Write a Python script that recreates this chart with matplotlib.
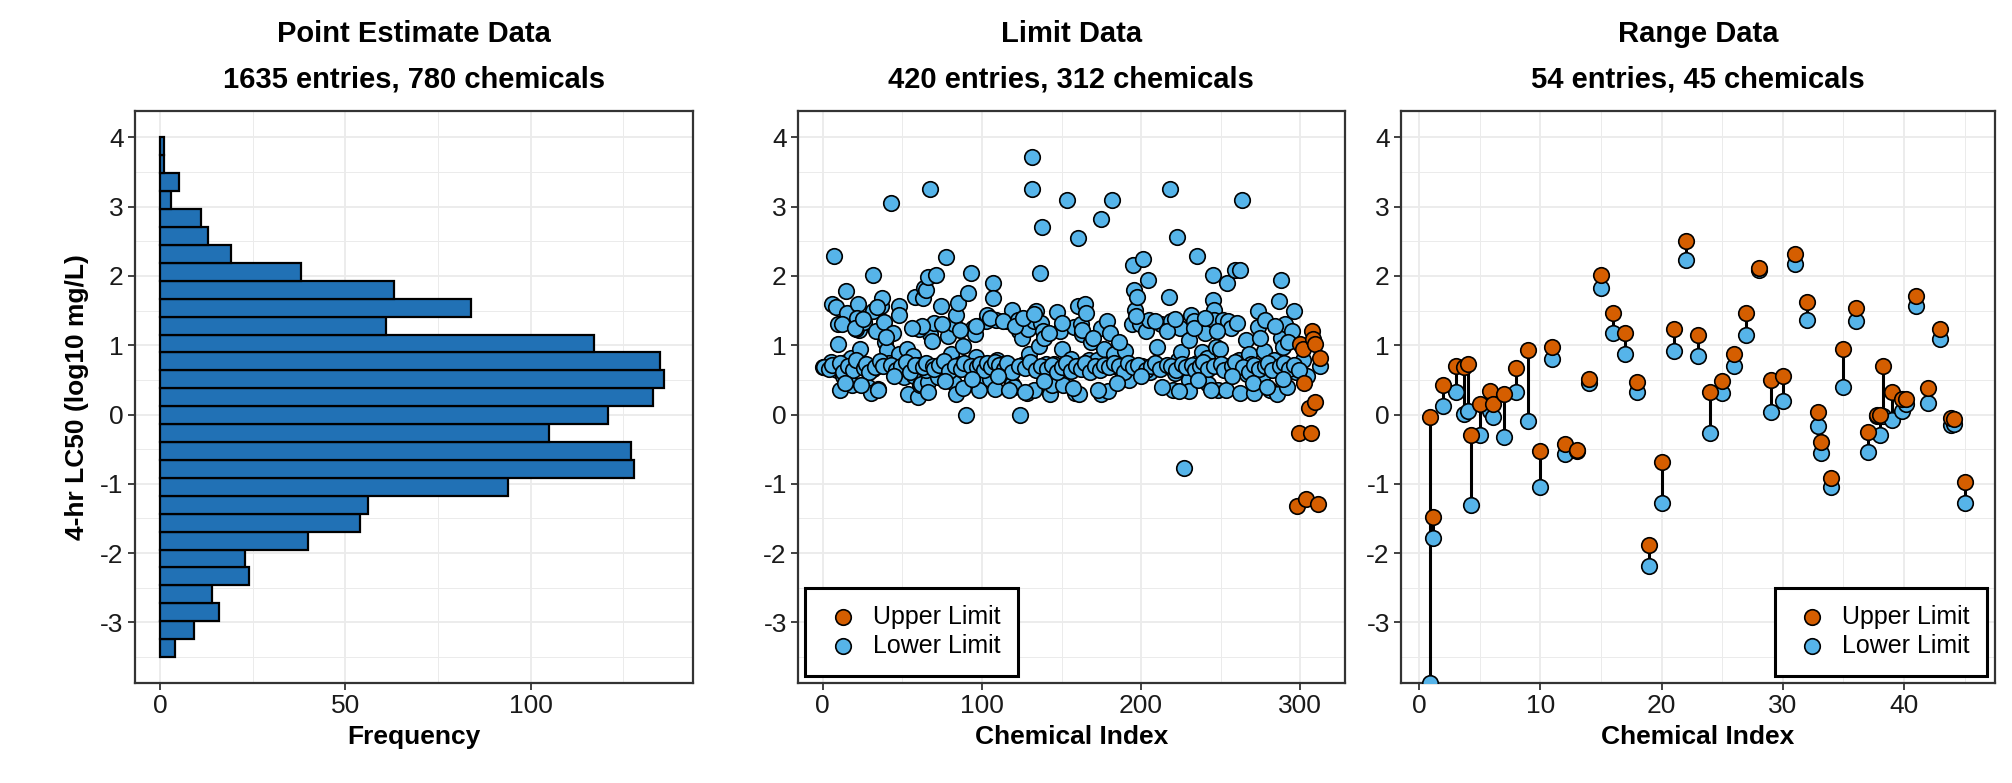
import numpy as np
import matplotlib
matplotlib.use("Agg")
from matplotlib import pyplot as plt
from matplotlib.ticker import MultipleLocator

plt.rcParams['font.family'] = ['Liberation Sans', 'DejaVu Sans']
plt.rcParams['axes.unicode_minus'] = False

ORANGE = '#D55E00'
BLUE = '#56B4E9'
BAR = '#2171B5'

# histogram of point estimates (counts from bottom bin at -3.5 up to 4.0)
hist_lo, hist_hi = -3.5, 4.0
hist_counts = [4, 9, 16, 14, 24, 23, 40, 54, 56, 94, 128, 127, 105, 121, 133,
               136, 135, 117, 61, 84, 63, 38, 19, 13, 11, 3, 5, 1, 1]

# limit data: lower limits (blue) and upper limits (orange)
lower_idx = [0, 2.6, 5.1, 7.2, 5.6, 8.2, 9.5, 9.5, 9, 10.8, 12.8, 14.6, 15.1, 14.6, 17.6, 18.5,
             17.2, 22.3, 21.8, 22.8, 23.1, 21, 24.4, 26.2, 28.2, 30, 34.7, 31.6, 31.3, 33.4,
             31.3, 33.9, 36.5, 37.2, 38.2, 39, 40.3, 42.9, 44.2, 41.6, 44.9, 47.9, 47.9, 50.6,
             47.9, 53.1, 51.3, 53.7, 57, 56.4, 58.2, 59.6, 60.3, 60.9, 61.6, 62.9, 63.4, 64.7,
             66, 67.3, 67.3, 68.5, 69.8, 60.3, 62.1, 66, 64.7, 71.1, 72.4, 74.2, 77.5, 75.7,
             78.8, 80.6, 80.9, 82.7, 84, 82.7, 84, 85.2, 86.5, 88.3, 89.9, 91.1, 91.7, 92.9,
             94.2, 95.5, 96.3, 98.1, 98.1, 102, 102.7, 103.3, 104, 105.3, 107.1, 107.1, 108.3,
             109.1, 109.6, 112.2, 113.5, 115.5, 117.3, 118.6, 118.6, 120.4, 121.2, 122.5, 123,
             124, 125.1, 126.3, 128.3, 128.9, 129.4, 131.4, 131.4, 132.7, 132.7, 134, 135.8,
             136.6, 137.4, 137.9, 138.4, 139.2, 140.4, 143, 144.3, 145, 146.9, 148.9, 150.2,
             151.2, 153.3, 155.4, 155.8, 157.8, 158.4, 160.2, 160.2, 161, 162.3, 163, 164.9,
             165.6, 166.1, 167.4, 168.7, 170, 172.5, 174.6, 175.1, 175.1, 176.9, 178.5, 179,
             180.2, 181.5, 182.8, 184.1, 187.9, 189.7, 191.3, 192.6, 194.3, 195.1, 195.6, 196.4,
             197.4, 199.5, 200.8, 201.5, 202.8, 204.6, 205.1, 205.9, 208.5, 210.2, 212.3, 214.8,
             217.4, 218.2, 218.7, 220, 222.6, 221.3, 223.1, 224.7, 225.2, 227.2, 229.8, 229.8,
             229.8, 231.6, 233.4, 235.4, 235.4, 238, 240, 241.1, 241.9, 243.6, 245.2, 245.2,
             245.7, 245.7, 247, 249.5, 248.3, 251.6, 253.1, 254.1, 254.9, 255.5, 256.7, 259.3,
             262.3, 263.2, 261.2, 262.3, 265.7, 266.7, 267.5, 269.3, 270.8, 273.4, 273.4, 276,
             277, 277.8, 281.1, 283.7, 285.5, 286.8, 287.6, 288.1, 288.9, 290.1, 291.4, 291.9,
             294.5, 295.8, 297.1, 301.7, 304.3, 312.5,
             1, 4, 6, 11, 13, 16, 19, 21, 26, 27, 29, 33, 36, 38, 43, 46, 49, 52, 55, 58, 63,
             65, 69, 70, 73, 76, 79, 83, 87, 89, 93, 97, 99, 101, 103, 106, 108, 111, 114, 116,
             119, 123, 127, 130, 134, 137, 141, 144, 147, 150, 153, 156, 159, 162, 165, 168,
             171, 174, 177, 180, 183, 186, 189, 192, 195, 198, 203, 206, 209, 212, 216, 219,
             222, 226, 228, 232, 234, 237, 239, 242, 246, 250, 252, 257, 259, 264, 268, 271,
             274, 278, 280, 282, 287, 290, 293, 296, 299,
             14, 24, 35, 45, 66, 77, 88, 94, 110, 117, 127, 139, 157, 173, 185, 200, 213, 224,
             236, 244, 257, 270, 279, 289,
             12, 20, 25, 34, 40, 56, 75, 86, 96, 105, 113, 121, 126, 133, 142, 150, 163, 170,
             186, 197, 209, 216, 221, 233, 240, 248, 260, 275, 284, 292]
lower_val = [0.69, 0.69, 0.76, 2.29, 1.6, 1.55, 1.31, 1.02, 0.64, 0.35, 0.55, 1.79, 1.46, 0.76,
             0.82, 0.42, 0.68, 1.6, 1.4, 1.22, 0.94, 1.23, 0.70, 1.33, 0.40, 0.31, 0.37, 2.01,
             1.49, 1.2, 0.66, 0.70, 1.56, 1.68, 1.33, 1.04, 0.93, 3.06, 1.17, 0.74, 0.66, 1.56,
             1.44, 0.80, 0.87, 0.94, 0.54, 0.30, 0.55, 0.85, 1.7, 0.25, 0.71, 0.42, 0.44, 1.68,
             1.82, 1.80, 1.98, 3.26, 1.16, 1.06, 1.32, 1.23, 1.28, 0.47, 0.64, 2.02, 0.54, 1.56,
             2.27, 0.70, 1.13, 0.87, 0.48, 0.45, 0.30, 1.30, 1.44, 1.61, 0.73, 0.99, 0.0, 1.75,
             0.70, 2.04, 1.25, 1.16, 0.83, 0.49, 0.35, 0.68, 1.35, 1.44, 0.70, 0.51, 1.90, 1.68,
             0.37, 1.37, 0.78, 0.59, 0.73, 1.35, 0.70, 1.51, 0.44, 0.40, 0.68, 1.37, 1.20, 0.0,
             1.11, 0.73, 0.31, 1.23, 0.87, 3.72, 3.26, 0.35, 1.35, 1.49, 0.99, 2.04, 1.32, 2.70,
             1.20, 1.10, 0.73, 0.30, 0.42, 0.73, 1.48, 1.21, 0.94, 0.42, 3.10, 0.68, 0.80, 1.26,
             0.31, 2.55, 1.56, 0.30, 1.30, 1.16, 1.60, 1.47, 0.66, 0.78, 1.04, 0.68, 0.78, 1.25,
             2.82, 0.30, 0.94, 1.35, 0.34, 1.18, 3.10, 0.87, 0.70, 0.63, 0.92, 0.70, 0.50, 1.30,
             2.16, 1.80, 1.51, 1.70, 1.31, 0.70, 2.24, 1.21, 1.94, 1.36, 0.61, 0.70, 0.98, 1.31,
             0.70, 1.70, 3.25, 1.35, 0.36, 2.56, 0.60, 0.78, 1.25, 0.90, -0.77, 1.07, 0.50, 0.34,
             1.44, 1.35, 2.29, 0.75, 0.90, 1.17, 0.82, 0.44, 0.70, 2.01, 1.66, 1.51, 1.37, 0.97,
             0.94, 0.35, 1.37, 0.36, 1.90, 1.35, 0.70, 1.25, 2.09, 2.09, 3.10, 0.78, 0.31, 1.07,
             0.58, 0.88, 0.73, 0.31, 1.50, 1.26, 0.54, 0.92, 1.37, 0.35, 0.79, 0.30, 1.64, 1.94,
             1.11, 0.97, 1.30, 0.40, 0.68, 1.21, 1.50, 0.62, 0.79, 0.56, 0.70,
             0.69, 0.66, 0.72, 0.74, 0.62, 0.70, 0.65, 0.78, 0.67, 0.73, 0.62, 0.68, 0.77, 0.70,
             0.72, 0.65, 0.70, 0.76, 0.62, 0.72, 0.68, 0.74, 0.70, 0.66, 0.72, 0.77, 0.63, 0.70,
             0.66, 0.74, 0.70, 0.68, 0.73, 0.64, 0.75, 0.69, 0.76, 0.71, 0.66, 0.74, 0.62, 0.70,
             0.67, 0.76, 0.64, 0.70, 0.66, 0.72, 0.62, 0.68, 0.74, 0.63, 0.70, 0.66, 0.75, 0.62,
             0.70, 0.64, 0.72, 0.68, 0.75, 0.70, 0.62, 0.74, 0.68, 0.72, 0.65, 0.70, 0.74, 0.66,
             0.72, 0.70, 0.64, 0.73, 0.68, 0.72, 0.64, 0.70, 0.76, 0.66, 0.70, 0.73, 0.64, 0.70,
             0.76, 0.68, 0.62, 0.72, 0.66, 0.70, 0.75, 0.64, 0.70, 0.74, 0.66, 0.72, 0.64,
             0.45, 0.42, 0.36, 0.55, 0.33, 0.48, 0.38, 0.52, 0.55, 0.36, 0.33, 0.48, 0.38, 0.35,
             0.45, 0.55, 0.40, 0.34, 0.50, 0.36, 0.56, 0.45, 0.40, 0.52,
             1.30, 1.25, 1.38, 1.55, 1.12, 1.25, 1.30, 1.22, 1.28, 1.40, 1.35, 1.28, 1.40, 1.45,
             1.18, 1.32, 1.22, 1.10, 1.05, 1.42, 1.35, 1.20, 1.38, 1.25, 1.40, 1.20, 1.32, 1.10,
             1.28, 1.05]
upper_idx = [300.1, 301.7, 307.3, 307.8, 309.1, 312.5, 302.2, 305.3, 309.4, 299.1, 306.8,
             297.8, 303.5, 311.2]
upper_val = [1.02, 0.94, 1.21, 1.09, 1.02, 0.82, 0.45, 0.09, 0.18, -0.26, -0.26,
             -1.32, -1.22, -1.29]

# range data: one entry per row (chemical index, upper, lower)
range_chem = [1, 1, 2, 3, 4, 4, 4, 5, 6, 6, 7, 8, 9, 10, 11, 12, 13, 14, 15, 16, 17, 18,
              19, 20, 21, 22, 23, 24, 25, 26, 27, 28, 29, 30, 31, 32, 33, 33, 34, 35, 36,
              37, 38, 38, 38, 39, 40, 40, 41, 42, 43, 44, 44, 45]
range_upper = [-0.04, -1.48, 0.43, 0.70, 0.69, 0.73, -0.30, 0.15, 0.34, 0.15, 0.29, 0.67,
               0.93, -0.53, 0.97, -0.43, -0.51, 0.52, 2.01, 1.47, 1.18, 0.47, -1.89, -0.68,
               1.23, 2.51, 1.15, 0.32, 0.49, 0.87, 1.47, 2.11, 0.50, 0.56, 2.32, 1.62, 0.04,
               -0.40, -0.92, 0.94, 1.54, -0.25, 0.0, 0.0, 0.70, 0.32, 0.22, 0.22, 1.71, 0.39,
               1.24, -0.05, -0.06, -0.97]
range_lower = [-3.87, -1.78, 0.13, 0.32, 0.01, 0.05, -1.30, -0.29, 0.05, -0.03, -0.32, 0.32,
               -0.09, -1.04, 0.80, -0.57, -0.52, 0.46, 1.83, 1.18, 0.88, 0.32, -2.19, -1.27,
               0.92, 2.23, 0.85, -0.27, 0.31, 0.70, 1.15, 2.09, 0.03, 0.20, 2.17, 1.36, -0.17,
               -0.55, -1.05, 0.40, 1.35, -0.54, -0.02, -0.30, -0.02, -0.08, 0.05, 0.15, 1.57,
               0.17, 1.09, -0.15, -0.13, -1.27]

titles = ["Point Estimate Data\n1635 entries, 780 chemicals",
          "Limit Data\n420 entries, 312 chemicals",
          "Range Data\n54 entries, 45 chemicals"]
ylims = (-3.875, 4.375)
MS = 125


def style_axes(ax):
    ax.set_facecolor('white')
    ax.set_axisbelow(True)
    ax.yaxis.set_major_locator(MultipleLocator(1))
    ax.yaxis.set_minor_locator(MultipleLocator(0.5))
    ax.grid(which='major', color='#EBEBEB', lw=1.3)
    ax.grid(which='minor', color='#EBEBEB', lw=0.7)
    for s in ax.spines.values():
        s.set_color('#333333')
        s.set_linewidth(1.6)
    ax.tick_params(which='major', length=5, width=1.3, color='#333333',
                   labelsize=19, labelcolor='#1A1A1A', pad=3)
    ax.tick_params(which='minor', length=0)
    ax.set_ylim(*ylims)


fig = plt.figure(figsize=(20.12, 7.83), dpi=100)
ax1 = fig.add_axes([0.067, 0.1277, 0.2775, 0.730])
ax2 = fig.add_axes([0.3966, 0.1277, 0.2718, 0.730])
ax3 = fig.add_axes([0.6963, 0.1277, 0.2952, 0.730])

# panel 1: horizontal histogram
edges = np.linspace(hist_lo, hist_hi, len(hist_counts) + 1)
ax1.barh(edges[:-1], hist_counts, height=np.diff(edges), align='edge',
         color=BAR, edgecolor='black', linewidth=1.6)
ax1.set_xlim(-6.85, 143.85)
ax1.xaxis.set_major_locator(MultipleLocator(50))
ax1.xaxis.set_minor_locator(MultipleLocator(25))
ax1.set_xlabel("Frequency", fontsize=19, fontweight='bold', labelpad=5)
ax1.set_ylabel("4-hr LC50 (log10 mg/L)", fontsize=19, fontweight='bold', labelpad=8)

# panel 2: limit data
ax2.scatter(lower_idx, lower_val, s=MS, color=BLUE, edgecolor='black', linewidth=1.2,
            label='Lower Limit', zorder=3)
ax2.scatter(upper_idx, upper_val, s=MS, color=ORANGE, edgecolor='black', linewidth=1.2,
            label='Upper Limit', zorder=4)
ax2.set_xlim(-15.6, 328)
ax2.xaxis.set_major_locator(MultipleLocator(100))
ax2.xaxis.set_minor_locator(MultipleLocator(50))
ax2.set_xlabel("Chemical Index", fontsize=19, fontweight='bold', labelpad=5)

# panel 3: range data, entries of one chemical dodged side by side
chem = np.array(range_chem)
xpos = chem.astype(float)
for c in np.unique(chem):
    k = np.where(chem == c)[0]
    xpos[k] += (np.arange(len(k)) - (len(k) - 1) / 2) * 0.26
ax3.vlines(xpos, range_lower, range_upper, color='black', lw=2.2, zorder=2)
ax3.scatter(xpos, range_lower, s=MS, color=BLUE, edgecolor='black', linewidth=1.2,
            label='Lower Limit', zorder=3)
ax3.scatter(xpos, range_upper, s=MS, color=ORANGE, edgecolor='black', linewidth=1.2,
            label='Upper Limit', zorder=4)
ax3.set_xlim(-1.5, 47.5)
ax3.xaxis.set_major_locator(MultipleLocator(10))
ax3.xaxis.set_minor_locator(MultipleLocator(5))
ax3.set_xlabel("Chemical Index", fontsize=19, fontweight='bold', labelpad=5)

for ax, t in zip([ax1, ax2, ax3], titles):
    style_axes(ax)
    ax.set_title(t, fontsize=21, fontweight='bold', linespacing=1.8, pad=17)

for ax, loc in [(ax2, 'lower left'), (ax3, 'lower right')]:
    h, l = ax.get_legend_handles_labels()
    leg = ax.legend(h[::-1], l[::-1], loc=loc, fontsize=18, frameon=True, fancybox=False,
                    borderaxespad=0.3, handletextpad=0.4, labelspacing=0.2,
                    borderpad=0.7, handlelength=1.6)
    leg.get_frame().set_edgecolor('black')
    leg.get_frame().set_linewidth(2.2)
    leg.get_frame().set_alpha(1)

fig.savefig("out.png", dpi=100, facecolor='white')
